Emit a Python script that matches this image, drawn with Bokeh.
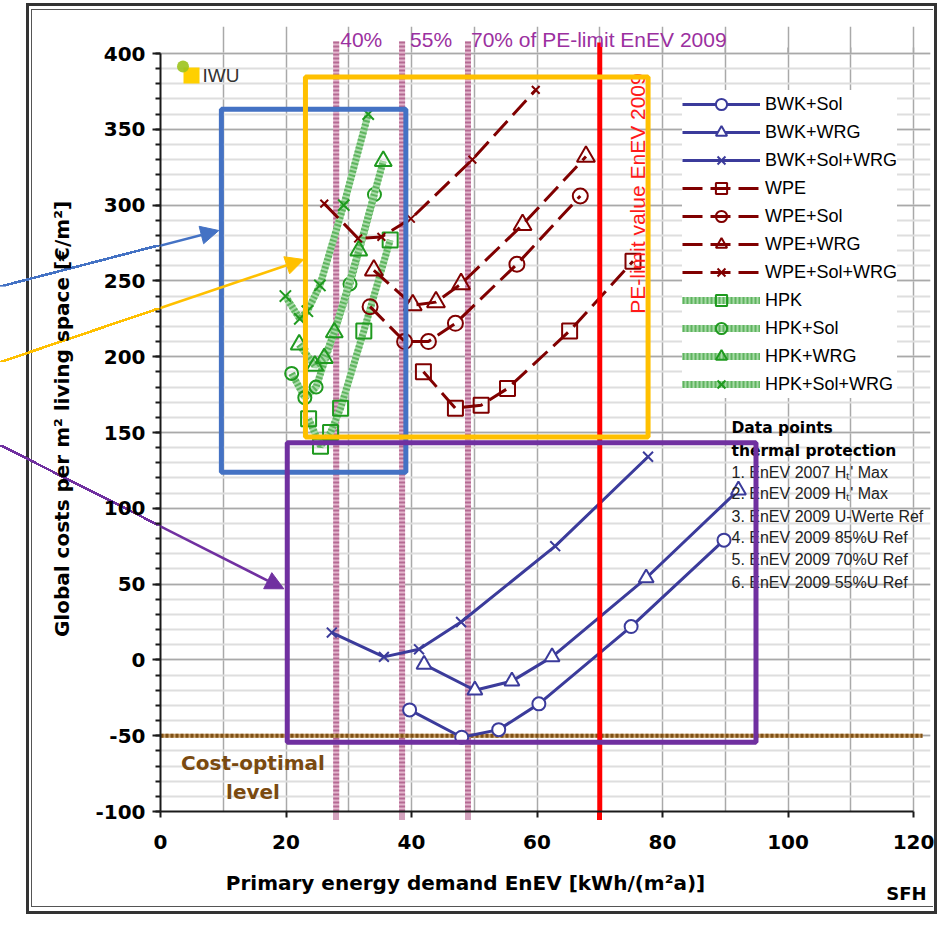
import math
from bokeh.plotting import figure
from bokeh.models import (Label, Arrow, NormalHead, BoxAnnotation, Legend, LegendItem,
                          SingleIntervalTicker, FixedTicker, Range1d, LinearAxis)
from bokeh.embed import file_html
from bokeh.resources import INLINE

# ---------------- data ----------------
bwk_sol_x = [39.7, 48.0, 53.9, 60.3, 75.0, 89.8]
bwk_sol_y = [-33, -51, -46, -29, 22, 79]
bwk_wrg_x = [42.0, 50.1, 56.0, 62.4, 77.4, 92.1]
bwk_wrg_y = [-3, -20, -14, 2, 54, 112]
bwk_sw_x = [27.3, 35.6, 41.2, 47.9, 62.9, 77.7]
bwk_sw_y = [18, 2, 7, 25, 75, 134]

wpe_x = [41.9, 47.0, 51.1, 55.3, 65.2, 75.3]
wpe_y = [190, 166, 168, 179, 217, 263]
wpe_sol_x = [33.4, 38.9, 42.7, 47.0, 56.8, 66.9]
wpe_sol_y = [233, 210, 210, 222, 261, 306]
wpe_wrg_x = [34.0, 40.2, 43.9, 47.9, 57.7, 67.8]
wpe_wrg_y = [257, 234, 236, 248, 287, 332]
wpe_sw_x = [26.1, 31.5, 35.2, 39.9, 49.7, 59.8]
wpe_sw_y = [301, 278, 279, 291, 330, 376]

hpk_x = [23.6, 25.5, 27.1, 28.7, 32.4, 36.6]
hpk_y = [159, 141, 150, 166, 217, 277]
hpk_sol_x = [20.9, 23.0, 24.8, 30.2, 34.1]
hpk_sol_y = [189, 173, 180, 248, 307]
hpk_wrg_x = [22.1, 24.6, 26.1, 27.7, 31.6, 35.5]
hpk_wrg_y = [208, 194, 199, 216, 270, 329]
hpk_sw_x = [19.9, 22.2, 23.4, 25.4, 29.2, 33.1]
hpk_sw_y = [240, 225, 230, 247, 300, 360]

pct_x = [28, 38.5, 49]
pct_labels = ["40%", "55%", "70% of PE-limit EnEV 2009"]
pe_limit_x = 70
cost_opt_y = -50

data_points_title = ["Data points", "thermal protection"]
data_points_items = ["1. EnEV 2007 H\u209c' Max", "2. EnEV 2009 H\u209c' Max",
                     "3. EnEV 2009 U-Werte Ref", "4. EnEV 2009 85%U Ref",
                     "5. EnEV 2009 70%U Ref", "6. EnEV 2009 55%U Ref"]

x_title = "Primary energy demand EnEV [kWh/(m\u00b2a)]"
y_title = "Global costs per m\u00b2 living space [\u20ac/m\u00b2]"
corner_text = "SFH"

# annotation boxes (data units): left, right, bottom, top
box_blue = (9.7, 39.1, 123.8, 363.3)
box_orange = (23.1, 77.7, 147.0, 384.5)
box_purple = (20.2, 94.9, -54.3, 143.2)

# ---------------- layout helpers (picture pixels -> data) ----------------
W, H = 937, 914
AXL, AXR, AXT, AXB = 160, 913, 53, 811      # where x=0..120, y=400..-100 sit
FRAME_TOP, FRAME_RIGHT = 26, 930            # the drawing frame reaches a bit further


def X(px):
    return (px - AXL) / (AXR - AXL) * 120.0


def Y(py):
    return 400.0 - (py - AXT) / (AXB - AXT) * 500.0


def PX(x):
    return AXL + x / 120.0 * (AXR - AXL)


p = figure(width=W, height=H, x_range=Range1d(0, X(FRAME_RIGHT)),
           y_range=Range1d(-100, Y(FRAME_TOP)),
           output_backend="svg", toolbar_location=None,
           min_border_left=AXL, min_border_right=W - FRAME_RIGHT,
           min_border_top=FRAME_TOP, min_border_bottom=H - AXB)
p.title.text = ""
p.outline_line_color = None
p.background_fill_color = "white"
p.border_fill_color = "white"
p.border_fill_alpha = 0.0

# axes
p.xaxis.ticker = SingleIntervalTicker(interval=20, num_minor_ticks=0)
p.yaxis.ticker = SingleIntervalTicker(interval=50, num_minor_ticks=5)
p.xaxis.bounds = (0, 120)
p.yaxis.bounds = (-100, 400)
for ax in (p.xaxis[0], p.yaxis[0]):
    ax.axis_line_width = 2
    ax.axis_line_color = "#1a1a1a"
    ax.major_tick_line_width = 2
    ax.major_tick_line_color = "#1a1a1a"
    ax.major_tick_in = 0
    ax.major_label_text_font = "DejaVu Sans"
    ax.major_label_text_font_style = "bold"
    ax.major_label_text_font_size = "20px"
    ax.major_label_text_color = "black"
p.xaxis.major_tick_out = 6
p.xaxis.minor_tick_line_color = None
p.xaxis.major_label_standoff = 17
p.yaxis.major_tick_out = 8
p.yaxis.minor_tick_out = 5
p.yaxis.minor_tick_in = 0
p.yaxis.minor_tick_line_width = 2
p.yaxis.minor_tick_line_color = "#1a1a1a"
p.yaxis.major_label_standoff = 7
p.yaxis.major_label_overrides = {-50: "-50", -100: "-100"}
p.yaxis.axis_label = y_title
p.yaxis.axis_label_standoff = 18
p.yaxis.axis_label_text_font = "DejaVu Sans"
p.yaxis.axis_label_text_font_style = "bold"
p.yaxis.axis_label_text_font_size = "20px"
p.yaxis.axis_label_text_color = "black"


def text_axis(side, tick, text, standoff, size, color="black", font="DejaVu Sans",
              style="bold"):
    ax = LinearAxis(ticker=FixedTicker(ticks=tick),
                    major_label_overrides=dict(zip(tick, text)),
                    axis_line_color=None, minor_tick_line_color=None,
                    major_tick_line_color=None, major_tick_out=0, major_tick_in=0,
                    major_label_standoff=standoff,
                    major_label_text_font=font, major_label_text_font_style=style,
                    major_label_text_font_size=size, major_label_text_color=color)
    p.add_layout(ax, side)
    return ax


text_axis("below", [X(465)], [x_title], 19, "20px")
text_axis("below", [X(906)], [corner_text], -15, "18px")

# grid
p.xgrid.ticker = SingleIntervalTicker(interval=10)
p.xgrid.grid_line_color = "#a9a9a9"
p.xgrid.grid_line_width = 1.5
p.ygrid.bounds = (-100, 400)
p.ygrid.grid_line_color = "#a9a9a9"
p.ygrid.grid_line_width = 1.5
p.ygrid.minor_grid_line_color = "#dedede"
p.ygrid.minor_grid_line_width = 2

# white masks: keep the grid inside x 0..120 / y -100..400, and behind the legend
p.quad(left=[0, X(AXR + 1)], right=[X(FRAME_RIGHT), X(FRAME_RIGHT)],
       bottom=[Y(AXT - 1), -100], top=[Y(FRAME_TOP), Y(AXT - 1)],
       fill_color="white", line_color=None, level="underlay")
p.quad(left=[X(672)], right=[X(906)], bottom=[Y(398)], top=[Y(88)],
       fill_color="white", line_color=None, level="underlay")
# short grid stubs above the top of the grid on the right
stub_x = [80, 90, 100, 110, 120]
p.segment(x0=stub_x, y0=[400] * 5, x1=stub_x, y1=[Y(47)] * 5, line_color="#a9a9a9",
          line_width=1.5)

# pink percentage lines and cost-optimal line, under the data
PINK_A, PINK_B = "#e3b6cd", "#b56a93"
for xv in pct_x:
    p.segment(x0=[xv], y0=[-100], x1=[xv], y1=[Y(41)], line_color=PINK_A, line_width=6)
    p.segment(x0=[xv], y0=[-100], x1=[xv], y1=[Y(41)], line_color=PINK_B, line_width=6,
              line_dash="2 2")
BROWN_A, BROWN_B = "#c9a06a", "#7f5116"
p.segment(x0=[0], y0=[cost_opt_y], x1=[X(922)], y1=[cost_opt_y], line_color=BROWN_A,
          line_width=4)
p.segment(x0=[0], y0=[cost_opt_y], x1=[X(922)], y1=[cost_opt_y], line_color=BROWN_B,
          line_width=4, line_dash="3 2")

# ---------------- data series ----------------
GREEN_A, GREEN_B, GREEN_M = "#a8dba8", "#5fb45f", "#1f9a1f"
RED = "#800000"
BLUE = "#3b3b9b"


def green_series(xs, ys, marker, size, label):
    a = p.line(xs, ys, line_color=GREEN_A, line_width=7)
    b = p.line(xs, ys, line_color=GREEN_B, line_width=7, line_dash="2 2")
    s = p.scatter(xs, ys, marker=marker, size=size, line_color=GREEN_M, fill_color=None,
                  line_width=2)
    return LegendItem(label=label, renderers=[a, b, s])


def red_series(xs, ys, marker, size, label):
    a = p.line(xs, ys, line_color=RED, line_width=3, line_dash="20 8")
    s = p.scatter(xs, ys, marker=marker, size=size, line_color=RED, fill_color=None,
                  line_width=2)
    return LegendItem(label=label, renderers=[a, s])


def blue_series(xs, ys, marker, size, label):
    a = p.line(xs, ys, line_color=BLUE, line_width=3)
    s = p.scatter(xs, ys, marker=marker, size=size, line_color=BLUE, fill_color="white",
                  line_width=2)
    return LegendItem(label=label, renderers=[a, s])


g1 = green_series(hpk_x, hpk_y, "square", 15, "HPK")
g2 = green_series(hpk_sol_x, hpk_sol_y, "circle", 13, "HPK+Sol")
g3 = green_series(hpk_wrg_x, hpk_wrg_y, "triangle", 17, "HPK+WRG")
g4 = green_series(hpk_sw_x, hpk_sw_y, "x", 16, "HPK+Sol+WRG")
r1 = red_series(wpe_x, wpe_y, "square", 15, "WPE")
r2 = red_series(wpe_sol_x, wpe_sol_y, "circle", 15, "WPE+Sol")
r3 = red_series(wpe_wrg_x, wpe_wrg_y, "triangle", 18, "WPE+WRG")
r4 = red_series(wpe_sw_x, wpe_sw_y, "x", 11, "WPE+Sol+WRG")
b1 = blue_series(bwk_sol_x, bwk_sol_y, "circle", 13, "BWK+Sol")
b2 = blue_series(bwk_wrg_x, bwk_wrg_y, "triangle", 15, "BWK+WRG")
b3 = blue_series(bwk_sw_x, bwk_sw_y, "x", 14, "BWK+Sol+WRG")

# PE limit red line (above the data)
p.segment(x0=[pe_limit_x], y0=[-100], x1=[pe_limit_x], y1=[Y(42)], line_color="#ff0000",
          line_width=5)

# IWU logo
p.scatter([X(191)], [Y(75)], marker="square", size=16, fill_color="#ffd000", line_color=None)
p.scatter([X(182.5)], [Y(66)], marker="circle", size=12, fill_color="#9cc31c", line_color=None,
          fill_alpha=0.9)

legend = Legend(items=[b1, b2, b3, r1, r2, r3, r4, g1, g2, g3, g4],
                location=(522, 413), padding=6, margin=0, spacing=0,
                glyph_width=78, glyph_height=28, label_height=28, label_standoff=5,
                label_text_font="Liberation Sans", label_text_font_size="18px",
                label_text_color="black", border_line_color=None,
                background_fill_color="white", background_fill_alpha=1.0)
p.add_layout(legend)

# ---------------- texts ----------------
def add_label(px, py, text, size, color="black", font="DejaVu Sans", style="normal",
              align="left", angle=0.0):
    p.add_layout(Label(x=X(px), y=Y(py), text=text, text_font=font, text_font_size=size,
                       text_font_style=style, text_color=color, text_align=align,
                       text_baseline="middle", angle=angle))


add_label(202, 75, "IWU", "19px", color="#333333", font="Liberation Sans")
for xv, lab, off in zip(pct_x, pct_labels, [4, 8, 3]):
    add_label(PX(xv) + off, 39, lab, "21px", color="#9b30a0", font="Liberation Sans")
add_label(637, 193, "PE-limit value EnEV 2009", "21px", color="#ff1a1a",
          font="Liberation Sans", align="center", angle=math.pi / 2)

add_label(731, 427, data_points_title[0], "15.5px", style="bold")
add_label(731, 450, data_points_title[1], "15.5px", style="bold")
dp_rows = [471.7, 493.3, 516, 536.7, 559.3, 581.7]
for py, txt in zip(dp_rows, data_points_items):
    add_label(731, py, txt, "16px", color="#222222", font="Liberation Sans")

add_label(252.5, 762, "Cost-optimal", "20px", color="#7a4a10", style="bold", align="center")
add_label(252.5, 791, "level", "20px", color="#7a4a10", style="bold", align="center")

# ---------------- annotation boxes and arrows ----------------
for (l, r, b, t), c in [(box_blue, "#4472c4"), (box_orange, "#ffc000"),
                        (box_purple, "#7030a0")]:
    p.add_layout(BoxAnnotation(left=l, right=r, bottom=b, top=t, fill_alpha=0,
                               fill_color=None, line_color=c, line_width=5, line_alpha=1))

ARROWS = [((0, 286.7, 218.3, 230), "#4472c4"),
          ((0, 361.7, 303.3, 259), "#ffc000"),
          ((0, 445.0, 283.3, 588.3), "#7030a0")]
for (x0, y0, x1, y1), c in ARROWS:
    p.add_layout(Arrow(x_start=x0, y_start=y0, start_units="canvas",
                       x_end=X(x1), y_end=Y(y1), end_units="data",
                       line_color=c, line_width=2.5,
                       end=NormalHead(size=18, fill_color=c, line_color=c, line_width=1)))

# ---------------- decorations outside the plotting frame (page CSS) ----------------
layers = []


def bar(x, y, w, h, color):
    layers.append(f"linear-gradient({color},{color}) {x}px {y}px / {w}px {h}px no-repeat")


def diag(x, y, w, h, direction, color, t=1.3):
    layers.append(
        f"linear-gradient({direction}, transparent calc(50% - {t}px), {color} calc(50% - {t}px),"
        f" {color} calc(50% + {t}px), transparent calc(50% + {t}px))"
        f" {x}px {y}px / {w}px {h}px no-repeat")


# arrow tails left of the axis
for (x0, y0, x1, y1), c in ARROWS:
    slope = (y1 - y0) / (x1 - x0)
    ye = y0 + slope * (AXL - x0)
    top, hgt = min(y0, ye), abs(ye - y0)
    direction = "to bottom right" if ye < y0 else "to top right"
    diag(x0, round(top, 1), AXL - x0, round(hgt, 1), direction, c)
# extensions of the vertical marker lines below the axis
for xv in pct_x:
    bar(round(PX(xv) - 3, 1), AXB, 6, 9, "#d3a2bd")
bar(round(PX(pe_limit_x) - 2.5, 1), AXB, 5, 9, "#ff0000")
# page frame: double border (outer thick, inner thin)
bar(26, 3, W - 27, 3, "#333333")
bar(26, 3, 3, H - 3, "#333333")
bar(26, H - 3, W - 27, 3, "#333333")
bar(W - 3, 3, 3, H - 3, "#333333")
bar(31, 9, W - 35, 1, "#555555")
bar(31, 9, 1, H - 16, "#555555")
bar(31, H - 8, W - 35, 1, "#555555")

p.styles = {"background": ", ".join(layers) + ", #ffffff"}

open("out.html", "w").write(file_html(p, INLINE))
